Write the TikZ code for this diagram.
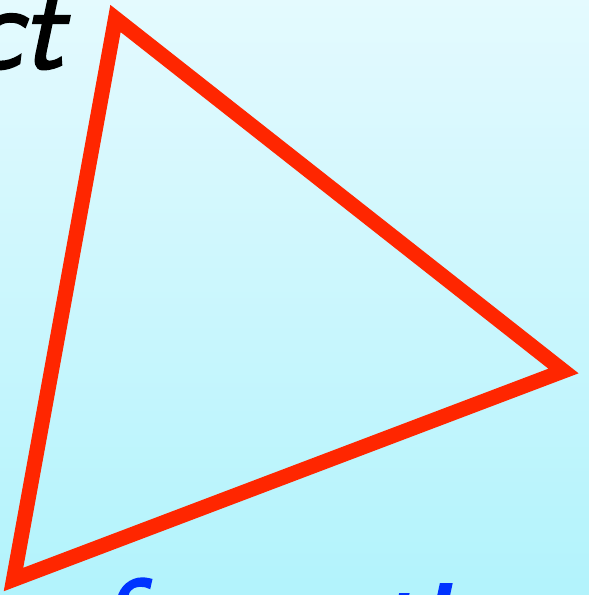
\documentclass[tikz,border=0pt]{standalone}
\usepackage{fontspec}
\newfontfamily\lmso{lmsans10-oblique.otf}[FakeBold=2]
\definecolor{bgtop}{RGB}{228,250,254}
\definecolor{bgbot}{RGB}{178,243,252}
\definecolor{tri}{RGB}{255,38,0}
\definecolor{txtblue}{RGB}{0,51,255}
\tikzset{
  edge/.style={draw=tri, line width=15pt, line join=miter},
  word/.style={inner sep=0pt, font=\lmso\fontsize{117}{117}\selectfont}
}
\begin{document}
\begin{tikzpicture}[x=1pt,y=-1pt]
\useasboundingbox (0,0) rectangle (589,595);
\clip (0,0) rectangle (589,595);
\shade[top color=bgtop, bottom color=bgbot] (0,0) rectangle (589,595);
\coordinate (A) at (115.5,18.5);
\coordinate (B) at (563.5,371);
\coordinate (C) at (13.5,579.5);
\path[edge] (A) -- (B) -- (C) -- cycle;
\node[word, anchor=base east, text=black] (ct) at (64,68) {ct};
\node[word, anchor=base west, text=txtblue] (fn) at (93,661) {formation};
\end{tikzpicture}
\end{document}
